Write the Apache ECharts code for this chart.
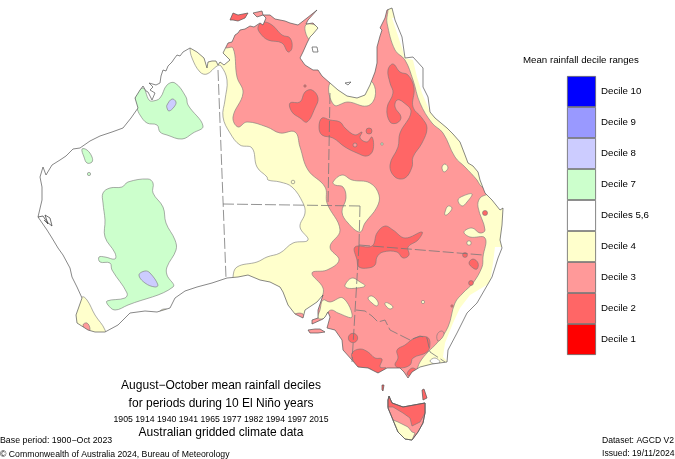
<!DOCTYPE html>
<html>
<head>
<meta charset="UTF-8">
<title>August-October mean rainfall deciles</title>
<style>
body{margin:0;background:#fff;}
#picContainer{width:675px;height:459px;}
</style>
</head>
<body>
<div id="picContainer"></div>
<script src="https://cdn.jsdelivr.net/npm/echarts@6/dist/echarts.min.js"></script>
<script>
// legend, top to bottom is Decile 10 .. Decile 1
var decileNames = ['Decile 1','Decile 2','Decile 3','Decile 4','Deciles 5,6','Decile 7','Decile 8','Decile 9','Decile 10'];
var decileColors = ['#ff0000','#ff6666','#ff9999','#ffffcc','#ffffff','#ccffcc','#ccccff','#9999ff','#0000ff'];
var legendValues = [1,1,1,1,1,1,1,1,1];

var coast = [[60,160],[66,156],[73,149],[80,148],[90,141],[100,136],[112,132],[123,128],[131,118],[138,108],[135,98],[140,90],[143,86],[146,91],[148,92],[152,100],[155,93],[150,90],[153,87],[149,83],[156,85],[160,83],[161,76],[163,70],[166,71],[168,66],[172,62],[174,59],[177,55],[180,56],[183,52],[190,48],[197,52],[204,58],[207,68],[208,62],[212,61],[216,61],[218,65],[220,62],[224,65],[230,60],[223,53],[228,43],[232,42],[235,35],[238,33],[240,30],[245,29],[250,26],[254,27],[260,23],[263,25],[266,18],[263,15],[270,15],[275,19],[280,20],[285,21],[290,23],[298,25],[307,18],[317,10],[308,20],[306,24],[313,23],[318,28],[313,34],[310,37],[307,43],[303,52],[300,58],[305,65],[313,70],[318,70],[322,76],[330,83],[338,90],[347,96],[357,98],[365,95],[370,85],[375,72],[377,63],[377,47],[380,36],[382,30],[380,28],[385,18],[387,10],[392,8],[395,20],[402,37],[405,58],[413,57],[423,68],[423,87],[428,97],[430,112],[435,118],[441,123],[447,128],[453,134],[460,142],[465,155],[468,163],[473,166],[478,172],[480,180],[485,193],[492,200],[500,210],[503,208],[502,225],[500,240],[502,248],[498,258],[492,277],[477,303],[467,313],[457,333],[448,350],[447,362],[432,364],[420,367],[412,372],[408,378],[404,372],[400,368],[393,368],[387,368],[378,373],[368,368],[358,367],[352,360],[343,350],[342,340],[335,330],[327,328],[330,317],[328,312],[325,317],[323,319],[312,324],[312,320],[318,318],[318,310],[323,295],[317,302],[305,310],[303,318],[295,314],[288,305],[283,292],[280,287],[270,282],[260,280],[248,275],[238,277],[227,278],[212,283],[197,287],[185,291],[175,298],[170,308],[157,312],[145,311],[130,313],[118,325],[105,332],[95,332],[88,330],[77,323],[76,315],[82,298],[77,287],[72,277],[70,268],[63,255],[58,248],[52,238],[47,230],[38,217],[42,200],[42,187],[40,177],[43,167],[46,175],[52,165]];
var oceanFrame = [[60,160],[-60,160],[-60,520],[566,520],[566,-60],[-60,-60],[-60,160]];

var yellowMain = [[190,48],[192,58],[200,72],[207,74],[217,66],[221,66],[227,80],[225,100],[223,117],[230,133],[240,145],[252,148],[257,167],[267,177],[268,180],[280,182],[292,187],[303,203],[305,213],[300,227],[308,240],[293,243],[280,253],[267,257],[257,262],[237,267],[233,277],[233,300],[300,340],[400,400],[520,400],[520,0],[190,0]];
var redMain = [[225,47],[225,5],[385,5],[387,23],[395,50],[405,60],[413,80],[420,103],[432,123],[443,133],[455,157],[465,167],[477,180],[480,185],[488,193],[480,198],[478,207],[485,230],[480,233],[472,228],[464,232],[470,237],[485,238],[483,257],[482,267],[473,283],[463,293],[455,303],[448,327],[437,343],[428,352],[420,362],[416,372],[400,400],[340,400],[308,335],[308,322],[316,312],[321,300],[323,288],[312,273],[327,270],[339,260],[330,247],[340,230],[327,203],[325,187],[308,170],[300,147],[295,132],[280,133],[267,127],[247,122],[238,127],[233,117],[243,93],[237,77],[233,48]];
var yellowGulf = [[330,83],[334,105],[348,102],[367,106],[375,97],[373,83],[365,80],[350,80]];
var yellowArnhem = [[307,24],[318,27],[315,35],[310,40],[305,30]];
var yellowCentre = [[333,182],[342,175],[352,180],[370,183],[379,195],[377,207],[365,223],[360,232],[348,223],[342,212],[346,198],[343,187],[335,185]];
var yellowYorke = [[323,300],[330,302],[343,298],[352,317],[338,313],[332,310],[328,312],[325,318],[318,318],[320,310]];
var yellowPatch1 = [[345,285],[352,278],[360,282],[365,286],[357,288],[347,288]];
var yellowPatch2 = [[368,298],[372,296],[378,302],[377,306],[372,303]];
var yellowPatch3 = [[385,303],[388,303],[393,307],[390,309],[386,306]];
var yellowPatch4 = [[458,200],[463,196],[472,194],[467,202],[462,206]];
var yellowPatch5 = [[445,212],[448,206],[452,208],[448,214],[445,215]];
var yellowPatch6 = [[442,167],[445,164],[448,168],[444,172]];
var yellowSW = [[82,297],[87,300],[95,315],[105,330],[105,340],[70,340],[70,310]];
var yellowBight = [[160,311],[164,309],[168,310],[168,314],[160,314]];
var redSW = [[83,325],[87,323],[90,329],[87,334]];
var redEyre = [[295,314],[303,314],[303,320],[295,318]];
var redOutline = [[437,335],[441,331],[444,333],[442,338],[438,341]];

var d2TopEnd = [[263,22],[272,25],[282,35],[290,38],[292,48],[288,52],[282,43],[268,40],[260,33],[258,27]];
var d2Barkly = [[290,103],[300,102],[305,92],[312,90],[318,98],[315,108],[307,122],[300,118],[292,112]];
var d2Border = [[319,127],[322,118],[330,120],[340,122],[345,128],[355,135],[362,132],[360,138],[367,142],[372,137],[373,150],[367,156],[357,153],[345,147],[333,138],[322,135]];
var d2Qld = [[388,70],[390,83],[393,93],[387,108],[390,122],[397,123],[401,117],[395,107],[397,100],[403,102],[411,112],[400,133],[398,147],[390,165],[395,177],[405,178],[412,167],[413,157],[422,143],[427,128],[422,118],[413,107],[414,88],[408,75],[400,72],[393,64]];
var d2Corner = [[355,247],[372,246],[377,233],[385,226],[393,230],[405,238],[422,232],[418,240],[408,247],[409,255],[403,258],[397,252],[383,252],[377,257],[375,265],[368,268],[359,267],[357,260]];
var d2Nsw = [[469,263],[473,259],[478,263],[477,269],[473,268]];
var d2VicWest = [[352,353],[360,349],[368,352],[375,358],[382,359],[380,367],[386,368],[378,373],[368,368],[358,367],[353,360]];
var d2VicCentral = [[397,350],[405,345],[415,338],[427,337],[430,343],[427,352],[413,358],[410,365],[400,368],[395,365],[398,358]];
var d2VicSouth = [[407,374],[412,368],[417,371],[412,376]];

var greenKimberley = [[135,98],[143,88],[149,100],[153,101],[160,98],[167,85],[175,83],[186,97],[188,105],[203,126],[193,133],[182,139],[167,135],[160,132],[157,125],[147,123],[140,115],[137,108]];
var greenPilbara = [[82,149],[87,150],[92,157],[92,162],[87,163],[84,157]];
var greenInterior = [[103,193],[110,188],[122,187],[128,182],[148,179],[153,183],[153,193],[163,207],[166,223],[175,240],[176,250],[167,267],[167,275],[173,287],[128,305],[115,310],[108,305],[107,301],[125,298],[127,293],[112,270],[110,263],[100,262],[99,257],[105,257],[115,259],[115,253],[105,237],[105,220],[103,203]];
var lilacKimberley = [[167,105],[172,99],[176,102],[174,107],[169,111],[167,108]];
var lilacInterior = [[139,275],[145,271],[150,273],[158,285],[155,287],[145,283]];

var whiteCape = [[392,18],[397,33],[402,48],[405,58],[413,60],[417,77],[422,93],[428,107],[430,112],[445,110],[445,10]];
var whiteNsw = [[502,247],[495,247],[493,263],[490,283],[470,295],[460,308],[453,323],[445,343],[443,357],[448,362],[520,362],[520,247]];
var whiteGippsland = [[430,361],[435,358],[440,362],[435,364]];

var tasmania = [[388,400],[389,396],[392,403],[403,407],[425,403],[425,413],[423,423],[418,432],[412,440],[405,439],[398,432],[393,420],[388,408]];
var d2Tasmania = [[388,400],[389,397],[392,403],[403,407],[425,403],[425,413],[420,422],[412,426],[410,418],[403,413],[393,407],[388,407]];
var yellowTasmania = [[393,420],[398,422],[408,427],[412,432],[415,433],[412,440],[405,439],[398,432]];
var flinders = [[422,390],[424,389],[427,398],[423,400]];
var kingIsland = [[382,385],[384,385],[383,391],[382,390]];
var kangaroo = [[308,330],[315,329],[320,329],[325,332],[318,333],[310,333]];
var tiwi = [[230,20],[233,13],[238,15],[248,13],[245,18],[238,21],[233,20]];
var cobourg = [[253,13],[262,11],[263,15],[257,17]];
var groote = [[312,47],[317,47],[318,52],[313,52]];
var mornington = [[345,83],[351,82],[348,85]];
var sharkBay = [[38,217],[43,216],[47,222],[52,226],[50,218],[45,215],[48,224],[44,220]];

// small round patches: x, y, radius
var spotsD2 = [[353,338,4.7],[369,131,3],[465,255,2.4],[471,283,2.4],[452,306,1.2],[485,213,2.5],[305,86,1.2]];
var spotsD3 = [[355,145,2]];
var spotsD4 = [[469,243,2.2],[423,302,1.6],[293,182,1.8]];
var spotsD7 = [[89,174,1.6],[382,144,1.2]];

var borderWA = [[218,70],[226,278]];
var borderNT = [[223,204],[360,206]];
var borderNTQ = [[330,93],[328,205]];
var borderQSA = [[360,206],[359,245]];
var borderQNSW = [[359,245],[483,255]];
var borderSANSW = [[359,245],[352,362]];
var borderMurray = [[356,310],[365,311],[372,316],[378,322],[385,320],[390,330],[400,335],[410,340],[420,336],[427,338],[430,352],[445,362]];

function color(name){ return decileColors[decileNames.indexOf(name)]; }
var D2 = color('Decile 2'), D3 = color('Decile 3'), D4 = color('Decile 4'), D7 = color('Decile 7'), D8 = color('Decile 8'), WHITE = '#ffffff';

// paint order matters, the ocean mask trims whatever runs past the coast
var layers = [
  [yellowMain,D4],[redMain,D3],
  [yellowGulf,D4],[yellowArnhem,D4],[yellowCentre,D4],[yellowYorke,D4],[yellowPatch1,D4],[yellowPatch2,D4],[yellowPatch3,D4],[yellowPatch4,D4],[yellowPatch5,D4],[yellowPatch6,D4],[yellowSW,D4],[yellowBight,D4],
  [redSW,D3],[redEyre,D3],[redOutline,D3],
  [d2TopEnd,D2],[d2Barkly,D2],[d2Border,D2],[d2Qld,D2],[d2Corner,D2],[d2Nsw,D2],[d2VicWest,D2],[d2VicCentral,D2],[d2VicSouth,D2],
  [greenKimberley,D7],[greenPilbara,D7],[greenInterior,D7],[lilacKimberley,D8],[lilacInterior,D8],
  [whiteCape,WHITE,'none'],[whiteNsw,WHITE,'none'],[whiteGippsland,WHITE],
  [coast.concat(oceanFrame),WHITE,'none'],
  [coast,'none','coast'],
  [tasmania,D3,'coast'],[d2Tasmania,D2,'flat'],[yellowTasmania,D4,'flat'],[tasmania,'none','coast'],
  [flinders,D2,'coast'],[kingIsland,D2,'coast'],[kangaroo,D3,'coast'],[tiwi,D2,'coast'],[cobourg,D3,'coast'],[groote,'none','coast'],[mornington,'none','coast']
];
var spots = [[spotsD2,D2],[spotsD3,D3],[spotsD4,D4],[spotsD7,D7]];
var dashedLines = [borderWA,borderNT,borderNTQ,borderQSA,borderQNSW,borderSANSW,borderMurray];

function renderLayer(params, api){
  var layer = layers[params.dataIndex];
  var pts = layer[0].map(function(p){ return api.coord(p); });
  var mode = layer[2];
  var stroke = '#777', width = 0.6, smooth = 0.4;
  if(mode === 'none'){ stroke = null; width = 0; smooth = 0; }
  if(mode === 'coast'){ stroke = '#555'; width = 0.7; smooth = 0; }
  if(mode === 'flat'){ smooth = 0; }
  return {type:'polygon', shape:{points:pts,smooth:smooth}, style:{fill:layer[1] === 'none' ? 'transparent' : layer[1], stroke:stroke, lineWidth:width}};
}
function renderSpot(params, api){
  var s = spotRows[params.dataIndex];
  var c = api.coord([s[0],s[1]]);
  return {type:'circle', shape:{cx:c[0],cy:c[1],r:s[2]}, style:{fill:s[3],stroke:'#777',lineWidth:0.6}};
}
function renderBorder(params, api){
  var pts = dashedLines[params.dataIndex].map(function(p){ return api.coord(p); });
  return {type:'polyline', shape:{points:pts}, style:{fill:'transparent',stroke:'#777',lineWidth:0.8,lineDash:[11,3]}};
}
function renderSolid(params, api){
  var pts = sharkBay.map(function(p){ return api.coord(p); });
  return {type:'polyline', shape:{points:pts}, style:{fill:'transparent',stroke:'#333',lineWidth:0.7}};
}
var spotRows = [];
spots.forEach(function(g){ g[0].forEach(function(s){ spotRows.push([s[0],s[1],s[2],g[1]]); }); });

function text(str, x, y, size, align){
  return {text:str, left:x, top:y, textAlign:align || 'left', padding:0,
    textStyle:{fontFamily:'Liberation Sans',fontSize:size,fontWeight:'normal',color:'#000'}};
}

var myChart = echarts.init(document.getElementById('picContainer'));
var option = {
  animation:false,
  backgroundColor:'#fff',
  title:[
    text('August\u2212October mean rainfall deciles',221,380,12,'center'),
    text('for periods during 10 El Ni\u00f1o years',221,398,12,'center'),
    text('1905 1914 1940 1941 1965 1977 1982 1994 1997 2015',221,415,8.7,'center'),
    text('Australian gridded climate data',221,427,12,'center'),
    text('Base period: 1900\u2212Oct 2023',0,436,8.8),
    text('\u00a9 Commonwealth of Australia 2024, Bureau of Meteorology',0,450,8.7),
    text('Dataset: AGCD V2',602,436,8.6),
    text('Issued: 19/11/2024',602,449,8.6),
    text('Mean rainfall decile ranges',523,55,9.7)
  ],
  grid:[
    {left:0,top:0,width:675,height:459},
    {left:567,top:76,width:29,height:279}
  ],
  xAxis:[
    {type:'value',gridIndex:0,min:0,max:675,show:false},
    {type:'value',gridIndex:1,min:0,max:1,show:false}
  ],
  yAxis:[
    {type:'value',gridIndex:0,min:0,max:459,inverse:true,show:false},
    {type:'category',gridIndex:1,position:'right',data:decileNames,
      axisLine:{show:false},axisTick:{show:false},
      axisLabel:{margin:5,fontSize:9.7,color:'#000',fontFamily:'Liberation Sans',padding:[3,0,0,0]}}
  ],
  series:[
    {type:'custom',xAxisIndex:0,yAxisIndex:0,silent:true,clip:false,renderItem:renderLayer,data:layers.map(function(l,i){ return [i]; }),encode:{x:[],y:[]}},
    {type:'custom',xAxisIndex:0,yAxisIndex:0,silent:true,clip:false,renderItem:renderSpot,data:spotRows.map(function(s,i){ return [i]; }),encode:{x:[],y:[]}},
    {type:'custom',xAxisIndex:0,yAxisIndex:0,silent:true,clip:false,renderItem:renderBorder,data:dashedLines.map(function(l,i){ return [i]; }),encode:{x:[],y:[]}},
    {type:'custom',xAxisIndex:0,yAxisIndex:0,silent:true,clip:false,renderItem:renderSolid,data:[[0]],encode:{x:[],y:[]}},
    {type:'bar',xAxisIndex:1,yAxisIndex:1,silent:true,barWidth:'100%',
      data:legendValues.map(function(v,i){
        return {value:v,itemStyle:{color:decileColors[i],borderColor:'#666',borderWidth:0.8}};
      })}
  ]
};
myChart.setOption(option);
</script>
</body>
</html>
